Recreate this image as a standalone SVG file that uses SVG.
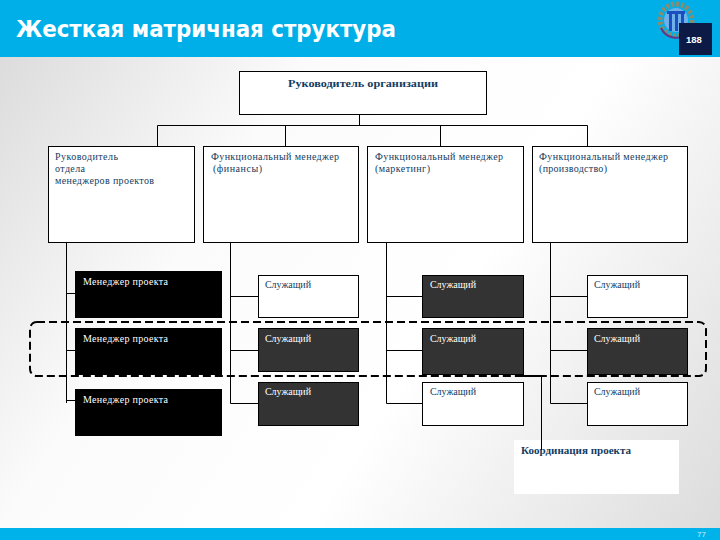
<svg xmlns="http://www.w3.org/2000/svg" width="720" height="540" viewBox="0 0 720 540">
<style>
.ln{fill:none;stroke:#000;stroke-width:1}
.box{fill:#fff;stroke:#000;stroke-width:1}
.dark{fill:#333;stroke:#000;stroke-width:1}
.blk{fill:#000}
.t{font-family:"Liberation Serif",serif;font-size:10px;fill:#123c62}
.b{font-weight:bold}
.w{fill:#fff}
</style>
<defs>
<linearGradient id="bg" gradientUnits="userSpaceOnUse" x1="0" y1="57" x2="720" y2="528">
<stop offset="0" stop-color="#dcdcdc"/><stop offset="0.3" stop-color="#fbfbfb"/><stop offset="0.6" stop-color="#fff"/><stop offset="1" stop-color="#dcdcdc"/>
</linearGradient>
</defs>
<rect width="720" height="540" fill="url(#bg)"/>
<rect id="header" width="720" height="57" fill="#00afe8"/>
<rect id="footer" y="528" width="720" height="12" fill="#00b2ea"/>
<text x="16" y="37" font-family="'DejaVu Sans',sans-serif" font-weight="bold" font-size="22.5" fill="#fff" textLength="380" lengthAdjust="spacingAndGlyphs">Жесткая матричная структура</text>
<text x="697" y="537" font-family="'Liberation Sans',sans-serif" font-size="8" fill="#cfeef9">77</text>
<g id="logo">
<circle cx="676" cy="20" r="12" fill="#6fb0e8"/>
<circle cx="676" cy="20" r="16" fill="none" stroke="#8a8c70" stroke-width="5" stroke-dasharray="3 2"/>
<path d="M661 28A17 17 0 0 0 690 31" fill="none" stroke="#5d3a8c" stroke-width="2"/>
<path d="M667 11h18v3h-18zM669 14h3v17h-3zM675 14h3v17h-3zM681 14h3v17h-3z" fill="#1b4fc0"/>
<rect x="679" y="23" width="33" height="32" fill="#0c1a45"/>
<text x="686" y="43" font-family="'Liberation Sans',sans-serif" font-weight="bold" font-size="9.500" fill="#fff">188</text>
</g>
<g id="connectors">
<path class="ln" d="M359.500 114V125.500M157.500 146V125.500H587.500V146M285.500 125.500V146M440.500 125.500V146"/>
<path class="ln" d="M66.500 242V403M66.500 293.500H75M66.500 350.500H75M66.500 400.500H75"/>
<path class="ln" d="M230.500 242V403.500H258M230.500 296.500H258M230.500 350.500H258"/>
<path class="ln" d="M386.500 242V403.500H422M386.500 296.500H422M386.500 350.500H422"/>
<path class="ln" d="M550.500 242V403.500H587M550.500 296.500H587M550.500 350.500H587"/>
</g>
<g id="top"><rect class="box" x="239.500" y="71.500" width="247" height="43"/><text class="t b" x="288" y="87" textLength="150" lengthAdjust="spacingAndGlyphs">Руководитель организации</text></g>
<g id="head-pm"><rect class="box" x="48.500" y="146.500" width="146" height="96"/>
<text class="t" x="55" y="160" textLength="63">Руководитель</text><text class="t" x="55" y="172" textLength="30">отдела</text><text class="t" x="55" y="184" textLength="99">менеджеров проектов</text></g>
<g id="fm-fin"><rect class="box" x="203.500" y="146.500" width="155" height="96"/>
<text class="t" x="211" y="160" textLength="128">Функциональный менеджер</text><text class="t" x="213" y="172" textLength="49">(финансы)</text></g>
<g id="fm-mkt"><rect class="box" x="367.500" y="146.500" width="156" height="96"/>
<text class="t" x="375" y="160" textLength="128">Функциональный менеджер</text><text class="t" x="375" y="172" textLength="55">(маркетинг)</text></g>
<g id="fm-prod"><rect class="box" x="532.500" y="146.500" width="155" height="96"/>
<text class="t" x="539" y="160" textLength="129">Функциональный менеджер</text><text class="t" x="539" y="172" textLength="68">(производство)</text></g>
<g id="pm1"><rect class="blk" x="75" y="271" width="147" height="47"/><text class="t w" x="83" y="285" textLength="85">Менеджер проекта</text></g>
<g id="pm2"><rect class="blk" x="75" y="328" width="147" height="47"/><text class="t w" x="83" y="342" textLength="85">Менеджер проекта</text></g>
<g id="pm3"><rect class="blk" x="75" y="389" width="147" height="47"/><text class="t w" x="83" y="403" textLength="85">Менеджер проекта</text></g>
<g id="e11"><rect class="box" x="258.500" y="275.500" width="100" height="42"/><text class="t" x="265" y="288" textLength="46">Служащий</text></g>
<g id="e12"><rect class="dark" x="422.500" y="275.500" width="101" height="42"/><text class="t w" x="430" y="288" textLength="46">Служащий</text></g>
<g id="e13"><rect class="box" x="587.500" y="275.500" width="100" height="42"/><text class="t" x="594" y="288" textLength="46">Служащий</text></g>
<g id="e21"><rect class="dark" x="258.500" y="328.500" width="100" height="43"/><text class="t w" x="265" y="342" textLength="46">Служащий</text></g>
<g id="e22"><rect class="dark" x="422.500" y="328.500" width="101" height="46"/><text class="t w" x="430" y="342" textLength="46">Служащий</text></g>
<g id="e23"><rect class="dark" x="587.500" y="328.500" width="100" height="46"/><text class="t w" x="594" y="342" textLength="46">Служащий</text></g>
<g id="e31"><rect class="dark" x="258.500" y="382.500" width="100" height="43"/><text class="t w" x="265" y="395" textLength="46">Служащий</text></g>
<g id="e32"><rect class="box" x="422.500" y="382.500" width="101" height="43"/><text class="t" x="430" y="395" textLength="46">Служащий</text></g>
<g id="e33"><rect class="box" x="587.500" y="382.500" width="100" height="43"/><text class="t" x="594" y="395" textLength="46">Служащий</text></g>
<g id="coord"><rect x="514" y="440" width="165" height="54" fill="#fff"/><text class="t b" x="521" y="454" textLength="110" lengthAdjust="spacingAndGlyphs">Координация проекта</text></g>
<g id="coord-link"><path class="ln" d="M541.500 376V450"/><path d="M522 376H541.500" stroke="#000" stroke-width="2"/></g>
<g id="group"><rect x="30" y="322" width="676" height="54" rx="7" fill="none" stroke="#000" stroke-width="2" stroke-dasharray="8 4"/></g>
</svg>
